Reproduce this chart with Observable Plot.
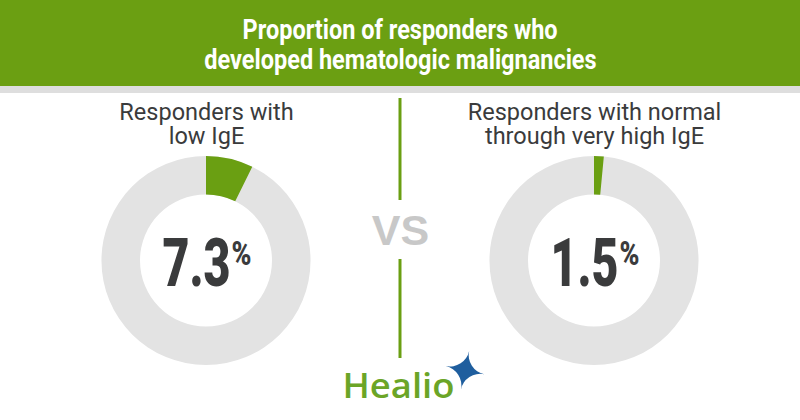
<!DOCTYPE html>
<html><head><meta charset="utf-8">
<script src="https://cdn.jsdelivr.net/npm/d3@7"></script>
<script src="https://cdn.jsdelivr.net/npm/@observablehq/plot@0.6"></script>
<style>
body{margin:0;background:#fff;width:800px;height:420px;overflow:hidden}
#header{height:86px;box-sizing:border-box;padding-top:15px;background:#6b9f12;display:flex;flex-direction:column;align-items:center}
#header .t{font-family:Roboto,sans-serif;font-weight:700;font-size:27px;line-height:30px;color:#fff;white-space:nowrap;transform-origin:center}
#band{height:7px;background:#dedede}
#chart svg{display:block}
</style></head><body>
<div id="header"><div class="t" id="t1"></div><div class="t" id="t2"></div></div>
<div id="band"></div>
<div id="chart"></div>
<script>
const titleLines = ["Proportion of responders who", "developed hematologic malignancies"];
const groups = ["low", "normal"];
const groupLabels = ["Responders with\nlow IgE", "Responders with normal\nthrough very high IgE"];
const percents = [7.3, 1.5];
const separatorText = "VS";
const brand = "Healio";

const GREEN = "#6a9f12", GRAY = "#e3e3e3", DARK = "#3a3b3c";
const fmt = d3.format(".1f");

document.getElementById("t1").textContent = titleLines[0];
document.getElementById("t2").textContent = titleLines[1];

function donuts(index, scales, values, dimensions) {
  const g = d3.create("svg:g");
  const cy = dimensions.marginTop + 167.5;
  const arc = d3.arc().innerRadius(66).outerRadius(104.5);
  groups.forEach((grp, i) => {
    const cx = scales.x(grp);
    const gg = g.append("g").attr("transform", `translate(${cx},${cy})`);
    gg.append("path").attr("d", arc({startAngle: 0, endAngle: 2 * Math.PI})).attr("fill", GRAY);
    gg.append("path").attr("d", arc({startAngle: 0, endAngle: 2 * Math.PI * percents[i] / 100})).attr("fill", GREEN);
  });
  const mx = dimensions.width / 2;
  g.append("line").attr("x1", mx).attr("x2", mx).attr("y1", 5).attr("y2", 107).attr("stroke", GREEN).attr("stroke-width", 3);
  g.append("line").attr("x1", mx).attr("x2", mx).attr("y1", 166).attr("y2", 265).attr("stroke", GREEN).attr("stroke-width", 3);
  return g.node();
}

const chart = Plot.plot({
  width: 800,
  height: 327,
  margin: 0,
  style: {background: "transparent", overflow: "visible"},
  x: {type: "point", domain: groups, range: [206, 594], padding: 0, axis: null},
  marks: [
    donuts,
    Plot.text(groups, {x: d => d, text: (d, i) => groupLabels[i], frameAnchor: "top", lineAnchor: "bottom", dy: 50,
      fontSize: 23.5, lineHeight: 1.02, fill: DARK, fontFamily: "Roboto"}),
    Plot.text(groups, {x: d => d, text: (d, i) => fmt(percents[i]), textAnchor: "end", dx: 24,
      frameAnchor: "top", lineAnchor: "bottom", dy: 192, fontSize: 66, fontWeight: 900, fill: DARK, fontFamily: "Roboto"}),
    Plot.text(groups, {x: d => d, text: () => "%", textAnchor: "start", dx: 25,
      frameAnchor: "top", lineAnchor: "top", dy: 147, fontSize: 34, fontWeight: 900, fill: DARK, fontFamily: "Roboto"}),
    Plot.text([separatorText], {text: d => d, frameAnchor: "top", lineAnchor: "bottom", dy: 151,
      fontSize: 43, fontWeight: 700, fontFamily: "Liberation Sans", fill: "#c8c8c8"}),
    Plot.text([brand], {text: d => d, frameAnchor: "top", lineAnchor: "bottom", dy: 304, dx: -58, textAnchor: "start",
      fontSize: 35, fontWeight: 600, fontFamily: "Open Sans", fill: "#6ba527"}),
    Plot.text(["\u2726"], {text: d => d, frameAnchor: "top", lineAnchor: "middle", dy: 279, dx: 64, rotate: 12,
      fontSize: 52, fontFamily: "DejaVu Sans", fill: "#1f5e9e"})
  ]
});
document.getElementById("chart").appendChild(chart);

// condense bold texts to match the reference's condensed typeface
function squeeze(el, s) {
  const t = el.getAttribute("transform");
  if (t) el.setAttribute("transform", t + ` scale(${s},1)`);
  else {
    const x = +el.getAttribute("x") || 0, y = +el.getAttribute("y") || 0;
    el.setAttribute("transform", `translate(${x},${y}) scale(${s},1) translate(${-x},${-y})`);
  }
}
const allTexts = Array.from(chart.querySelectorAll("text"));
const pctStrings = percents.map(fmt);
const pctTexts = allTexts.filter(el => pctStrings.includes(el.textContent));
if (pctTexts.length) {
  const s = 68 / pctTexts[0].getComputedTextLength();
  pctTexts.forEach(el => squeeze(el, s));
}
const signTexts = allTexts.filter(el => el.textContent === "%");
if (signTexts.length) {
  const s = 20 / signTexts[0].getComputedTextLength();
  signTexts.forEach(el => squeeze(el, s));
}
const brandTexts = allTexts.filter(el => el.textContent === brand);
if (brandTexts.length) {
  const s = 112 / brandTexts[0].getComputedTextLength();
  brandTexts.forEach(el => squeeze(el, s));
}
// title condensed
const t1 = document.getElementById("t1"), t2 = document.getElementById("t2");
const ts = 315 / t1.getBoundingClientRect().width;
t1.style.transform = `scaleX(${ts})`;
t2.style.transform = `scaleX(${ts})`;
</script>
</body></html>
